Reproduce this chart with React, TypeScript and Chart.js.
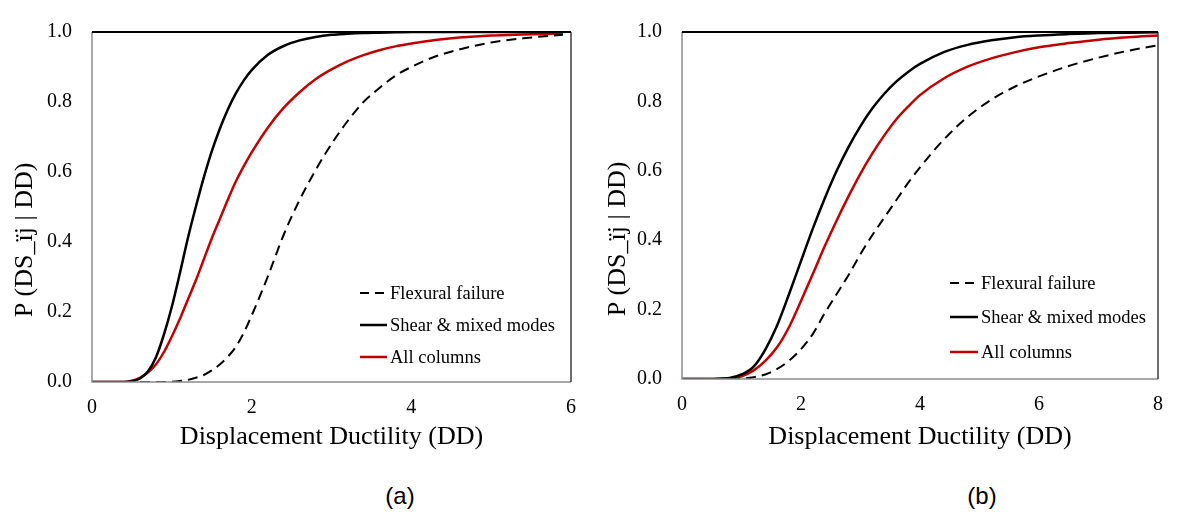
import React, { useEffect, useRef } from "react";
import { Chart, registerables } from "chart.js";

Chart.register(...registerables);

// Panel (a): displacement ductility grid and fragility values
const ddA = [0, 0.2, 0.4, 0.5, 0.6, 0.7, 0.8, 0.9, 1.0, 1.1, 1.2, 1.3, 1.4, 1.5, 1.6, 1.7, 1.8, 1.9, 2.0, 2.2, 2.4, 2.6, 2.8, 3.0, 3.2, 3.4, 3.6, 3.8, 4.0, 4.3, 4.6, 5.0, 5.4, 5.9];
const flexuralA = [0, 0, 0, 0, 0, 0, 0, 0, 0.001, 0.003, 0.006, 0.012, 0.02, 0.033, 0.05, 0.072, 0.1, 0.14, 0.19, 0.3, 0.42, 0.52, 0.605, 0.68, 0.745, 0.8, 0.84, 0.875, 0.9, 0.93, 0.95, 0.97, 0.982, 0.992];
const shearA = [0, 0, 0, 0.002, 0.01, 0.03, 0.07, 0.135, 0.215, 0.31, 0.41, 0.5, 0.584, 0.659, 0.723, 0.778, 0.824, 0.861, 0.891, 0.934, 0.96, 0.976, 0.986, 0.992, 0.995, 0.997, 0.998, 0.999, 1, 1, 1, 1, 1, 1];
const allA = [0, 0, 0, 0.004, 0.012, 0.027, 0.05, 0.085, 0.13, 0.18, 0.235, 0.29, 0.35, 0.41, 0.465, 0.52, 0.572, 0.616, 0.656, 0.726, 0.783, 0.828, 0.865, 0.893, 0.916, 0.934, 0.948, 0.959, 0.967, 0.977, 0.984, 0.99, 0.993, 0.996];

// Panel (b)
const ddB = [0, 0.4, 0.8, 1.0, 1.2, 1.4, 1.6, 1.8, 2.0, 2.2, 2.4, 2.6, 2.8, 3.0, 3.2, 3.4, 3.6, 3.8, 4.0, 4.4, 4.8, 5.2, 5.6, 6.0, 6.5, 7.0, 7.5, 8.0];
const flexuralB = [0, 0, 0, 0.001, 0.005, 0.013, 0.029, 0.053, 0.086, 0.13, 0.19, 0.245, 0.3, 0.36, 0.415, 0.465, 0.515, 0.565, 0.61, 0.69, 0.755, 0.805, 0.843, 0.872, 0.902, 0.926, 0.946, 0.962];
const shearB = [0, 0, 0.003, 0.013, 0.035, 0.085, 0.155, 0.245, 0.34, 0.434, 0.521, 0.6, 0.669, 0.729, 0.78, 0.822, 0.857, 0.885, 0.908, 0.942, 0.963, 0.976, 0.985, 0.99, 0.994, 0.997, 0.998, 0.999];
const allB = [0, 0, 0.002, 0.008, 0.024, 0.052, 0.092, 0.15, 0.225, 0.303, 0.383, 0.457, 0.527, 0.592, 0.65, 0.702, 0.748, 0.785, 0.818, 0.866, 0.9, 0.924, 0.942, 0.956, 0.968, 0.978, 0.985, 0.99];

const xTicksA = [0, 2, 4, 6];
const xTicksB = [0, 2, 4, 6, 8];
const yTicks = [0, 0.2, 0.4, 0.6, 0.8, 1.0];

const seriesNames = ["Flexural failure", "Shear & mixed modes", "All columns"];
const seriesColors = ["#000000", "#000000", "#c00000"];

const SERIF = "'Liberation Serif', 'Times New Roman', serif";

type PanelSpec = {
  left: number;
  width: number;
  height: number;
  areaTop: number;
  areaBottom: number;
  areaRight: number;
  xMax: number;
  xTicks: number[];
  dd: number[];
  series: number[][];
  legend: { lineX0: number; lineX1: number; textX: number; rows: number[] };
  yTitle: { x: number; y: number };
  xTitleY: number;
};

const panels: PanelSpec[] = [
  {
    left: 0,
    width: 590,
    height: 470,
    areaTop: 16,
    areaBottom: 382,
    areaRight: 572,
    xMax: 6,
    xTicks: xTicksA,
    dd: ddA,
    series: [flexuralA, shearA, allA],
    legend: { lineX0: 360, lineX1: 387, textX: 390, rows: [293, 325, 357] },
    yTitle: { x: 25, y: 240 },
    xTitleY: 437,
  },
  {
    left: 590,
    width: 587,
    height: 470,
    areaTop: 13,
    areaBottom: 379,
    areaRight: 581,
    xMax: 8,
    xTicks: xTicksB,
    dd: ddB,
    series: [flexuralB, shearB, allB],
    legend: { lineX0: 360, lineX1: 388, textX: 391, rows: [283, 317, 352] },
    yTitle: { x: 28, y: 239 },
    xTitleY: 437,
  },
];

function FragilityPanel({ spec }: { spec: PanelSpec }) {
  const ref = useRef<HTMLCanvasElement | null>(null);

  useEffect(() => {
    if (!ref.current) return;

    const framePlugin = {
      id: "frame",
      afterDatasetsDraw(chart: any) {
        const { ctx, chartArea: a } = chart;
        ctx.save();
        ctx.lineWidth = 1.5;
        ctx.strokeStyle = "#8c8c8c";
        ctx.beginPath();
        ctx.moveTo(a.left, a.top);
        ctx.lineTo(a.left, a.bottom);
        ctx.lineTo(a.right, a.bottom);
        ctx.stroke();
        ctx.strokeStyle = "#3c3c3c";
        ctx.beginPath();
        ctx.moveTo(a.right, a.bottom);
        ctx.lineTo(a.right, a.top);
        ctx.stroke();
        ctx.strokeStyle = "#000000";
        ctx.lineWidth = 2;
        ctx.beginPath();
        ctx.moveTo(a.left, a.top);
        ctx.lineTo(a.right, a.top);
        ctx.stroke();
        ctx.restore();
      },
    };

    const textPlugin = {
      id: "panelText",
      afterDraw(chart: any) {
        const { ctx, chartArea: a } = chart;
        ctx.save();
        // legend inside the plot
        const lg = spec.legend;
        ctx.font = `18.5px ${SERIF}`;
        ctx.textBaseline = "middle";
        ctx.textAlign = "left";
        seriesNames.forEach((name, i) => {
          const y = lg.rows[i];
          ctx.strokeStyle = seriesColors[i];
          ctx.lineWidth = i === 0 ? 2 : 2.5;
          ctx.setLineDash(i === 0 ? [9, 6] : []);
          ctx.beginPath();
          ctx.moveTo(lg.lineX0, y);
          ctx.lineTo(lg.lineX1, y);
          ctx.stroke();
          ctx.setLineDash([]);
          ctx.fillStyle = "#000000";
          ctx.fillText(name, lg.textX, y + 1);
        });
        // axis titles
        ctx.font = `26px ${SERIF}`;
        ctx.fillStyle = "#000000";
        ctx.textAlign = "center";
        ctx.textBaseline = "middle";
        ctx.fillText("Displacement Ductility (DD)", (a.left + a.right) / 2, spec.xTitleY);
        ctx.translate(spec.yTitle.x, spec.yTitle.y);
        ctx.rotate(-Math.PI / 2);
        ctx.fillText("P (DS_\u00efj | DD)", 0, 0);
        ctx.restore();
      },
    };

    const styles = [
      { borderWidth: 2, borderDash: [10, 6] },
      { borderWidth: 2.5, borderDash: [] },
      { borderWidth: 2.5, borderDash: [] },
    ];

    const chart = new Chart(ref.current, {
      type: "line",
      data: {
        datasets: spec.series.map((vals, i) => ({
          label: seriesNames[i],
          data: spec.dd.map((x, k) => ({ x, y: vals[k] })),
          borderColor: seriesColors[i],
          borderWidth: styles[i].borderWidth,
          borderDash: styles[i].borderDash,
          pointRadius: 0,
          fill: false,
          cubicInterpolationMode: "monotone" as const,
        })),
      },
      options: {
        animation: false,
        responsive: false,
        maintainAspectRatio: false,
        layout: { padding: { top: spec.areaTop, right: spec.width - spec.areaRight, left: 0, bottom: 0 } },
        plugins: { legend: { display: false }, tooltip: { enabled: false } },
        scales: {
          x: {
            type: "linear",
            min: 0,
            max: spec.xMax,
            grid: { display: false, drawTicks: false },
            border: { display: false },
            afterFit(scale: any) {
              scale.height = spec.height - spec.areaBottom;
            },
            afterBuildTicks(scale: any) {
              scale.ticks = spec.xTicks.map((v) => ({ value: v }));
            },
            ticks: {
              padding: 14,
              color: "#000000",
              font: { family: SERIF, size: 20 },
              callback: (v: any) => String(v),
            },
          },
          y: {
            type: "linear",
            min: 0,
            max: 1,
            grid: { display: false, drawTicks: false },
            border: { display: false },
            afterFit(scale: any) {
              scale.width = 92;
            },
            afterBuildTicks(scale: any) {
              scale.ticks = yTicks.map((v) => ({ value: v }));
            },
            ticks: {
              padding: 20,
              color: "#000000",
              font: { family: SERIF, size: 20 },
              callback: (v: any) => Number(v).toFixed(1),
            },
          },
        },
      },
      plugins: [framePlugin, textPlugin],
    });

    return () => chart.destroy();
  }, [spec]);

  return (
    <canvas
      ref={ref}
      width={spec.width}
      height={spec.height}
      style={{ position: "absolute", left: spec.left, top: 0, width: spec.width, height: spec.height }}
    />
  );
}

export default function App() {
  const captionStyle: React.CSSProperties = {
    position: "absolute",
    top: 482,
    fontFamily: "'Liberation Sans', Arial, sans-serif",
    fontSize: 24,
    lineHeight: "28px",
    color: "#000",
    transform: "translateX(-50%)",
  };
  return (
    <div style={{ position: "absolute", left: 0, top: 0, width: 1177, height: 512, background: "#fff", overflow: "hidden" }}>
      {panels.map((p, i) => (
        <FragilityPanel key={i} spec={p} />
      ))}
      <div style={{ ...captionStyle, left: 400 }}>(a)</div>
      <div style={{ ...captionStyle, left: 982 }}>(b)</div>
    </div>
  );
}
